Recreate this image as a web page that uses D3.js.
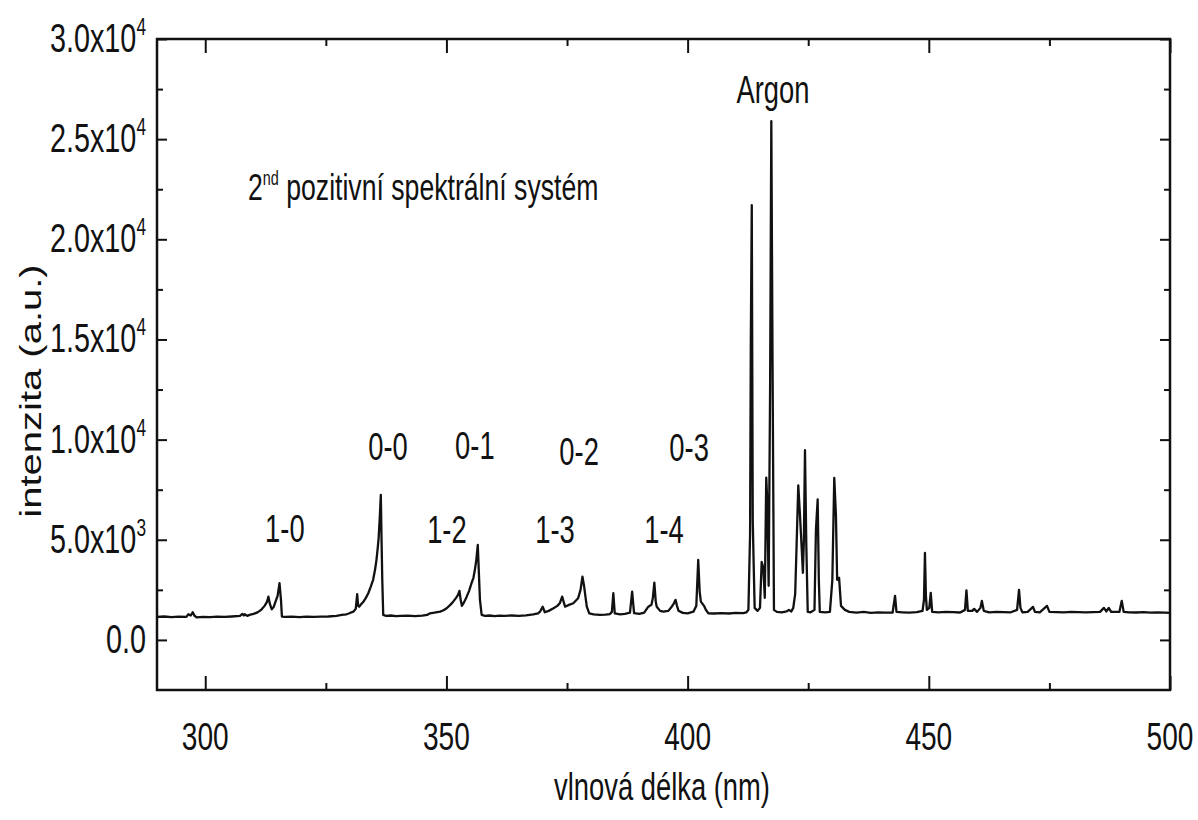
<!DOCTYPE html>
<html>
<head>
<meta charset="utf-8">
<script src="https://cdn.jsdelivr.net/npm/d3@7"></script>
<style>
  html, body { margin: 0; padding: 0; background: #fff; }
  svg { display: block; }
  text { font-family: "Liberation Sans", Arial, sans-serif; fill: #111; }
</style>
</head>
<body>
<svg id="chart" width="1198" height="820"></svg>
<script>
// ---------- data ----------
const wavelength = [
  290.0,291.5,293.0,294.5,296.1,296.5,297.0,297.4,297.8,298.2,299.5,301.0,302.5,304.0,305.5,307.2,307.7,308.0,308.2,308.7,
  309.2,310.0,310.7,311.3,311.7,312.3,312.8,313.1,313.4,313.8,314.2,314.5,315.0,315.4,315.7,315.9,316.5,318.0,319.5,321.0,
  322.5,324.0,325.5,327.2,328.3,329.3,329.9,330.3,330.7,331.2,331.5,331.7,331.9,332.4,332.8,333.3,333.8,334.3,334.8,335.2,
  335.5,335.8,335.95,336.2,336.4,336.55,336.7,336.9,337.5,338.5,339.5,340.5,342.0,343.5,345.0,346.0,346.6,347.5,348.7,349.4,
  350.05,350.8,351.4,352.0,352.4,352.7,352.95,353.2,353.7,354.2,354.7,355.2,355.6,355.9,356.2,356.5,356.75,356.95,357.3,358.0,
  359.0,360.0,361.0,362.0,363.5,365.0,366.5,368.0,369.0,369.4,369.95,370.4,371.2,372.2,373.0,373.5,374.0,374.3,374.6,375.4,
  376.3,377.3,377.8,378.2,378.5,378.8,379.1,379.6,380.5,381.8,383.0,383.9,384.3,384.6,384.9,386.0,387.0,388.05,388.5,388.9,
  390.0,391.0,391.85,392.5,392.8,393.1,393.4,393.6,394.3,395.0,396.0,396.7,397.1,397.5,397.8,398.1,399.0,400.0,401.2,401.8,
  402.2,402.5,402.75,403.1,403.4,403.8,404.3,405.5,407.0,408.5,410.0,411.5,412.2,412.6,412.95,413.1,413.3,413.5,413.7,413.9,
  414.5,415.0,415.35,415.7,416.0,416.3,416.5,416.8,417.1,417.35,417.6,417.9,418.5,419.5,420.5,421.0,421.5,421.9,422.3,422.6,
  422.94,423.3,423.6,423.9,424.1,424.33,424.6,424.9,425.5,426.3,426.6,426.96,427.2,427.4,428.5,429.5,430.0,430.4,430.75,431.0,
  431.4,431.8,432.6,433.5,435.0,436.5,438.0,439.5,441.0,442.5,443.0,443.3,444.5,446.0,447.5,448.7,449.0,449.2,449.4,449.6,
  450.1,450.4,450.7,452.0,453.5,455.0,456.5,457.5,457.8,458.1,459.0,459.4,460.0,460.7,461.0,461.4,462.5,464.0,465.5,467.0,
  468.3,468.7,469.0,469.4,470.5,471.6,472.0,473.0,474.5,475.0,476.5,478.0,479.5,481.0,482.5,484.0,485.5,486.3,486.8,487.3,
  487.8,489.5,490.0,490.4,491.5,493.0,494.5,496.0,497.5,499.0,500.0
];
const intensity = [
  1150,1170,1140,1160,1150,1280,1220,1380,1200,1130,1150,1140,1160,1150,1170,1200,1300,1220,1280,1200,
  1250,1300,1360,1450,1530,1700,1900,2160,1800,1530,1650,1860,2200,2830,2000,1160,1150,1160,1140,1160,
  1150,1160,1170,1200,1250,1280,1330,1380,1410,1550,2280,1700,1660,1800,1910,2100,2330,2650,3000,3500,
  4000,4700,5100,6200,7240,5000,3000,1250,1200,1220,1190,1200,1210,1190,1210,1250,1330,1360,1410,1480,
  1580,1750,1910,2100,2250,2450,2000,1700,1900,2160,2450,2830,3100,3500,4000,4740,3200,2000,1250,1200,
  1220,1190,1210,1200,1220,1200,1230,1280,1330,1410,1660,1380,1450,1580,1700,1830,2160,1900,1660,1750,
  1830,2080,2500,3160,2750,2200,1660,1330,1280,1250,1260,1290,1400,2330,1320,1280,1300,1360,2410,1340,
  1300,1360,1660,1750,2100,2860,1900,1660,1450,1410,1450,1660,1800,2000,1700,1460,1350,1330,1410,1700,
  3990,2400,1910,1800,1700,1500,1330,1320,1340,1320,1350,1340,1380,1500,5300,14900,21700,6000,3700,1600,
  1450,1600,3890,3600,2100,8100,7000,2700,12600,25900,14000,1500,1400,1380,1420,1500,1420,1600,2300,4800,
  7720,6200,4800,3350,5000,9470,4800,1400,1380,1500,5500,7010,3000,1400,1380,1400,3000,8090,6200,3000,
  3100,1700,1500,1400,1360,1400,1350,1380,1360,1370,2200,1400,1380,1360,1390,1450,2000,4340,2200,1500,
  1600,2350,1400,1380,1400,1390,1370,1500,2470,1450,1450,1550,1400,1600,1950,1450,1380,1400,1390,1380,
  1500,2500,1600,1380,1400,1650,1400,1380,1700,1400,1390,1380,1400,1390,1380,1390,1400,1600,1420,1600,
  1400,1400,1950,1400,1380,1370,1390,1360,1380,1360,1350
];

const xMajorTicks = [300, 350, 400, 450, 500];
const xMinorTicks = [325, 375, 425, 475];
const yMajorTicks = [0, 5000, 10000, 15000, 20000, 25000, 30000];
const yMinorTicks = [2500, 7500, 12500, 17500, 22500, 27500];
const yTickMantissa = ["0.0", "5.0x10", "1.0x10", "1.5x10", "2.0x10", "2.5x10", "3.0x10"];
const yTickExponent = ["", "3", "4", "4", "4", "4", "4"];

const bandLabels = ["1-0", "0-0", "0-1", "1-2", "0-2", "1-3", "0-3", "1-4", "Argon"];
const bandLabelX = [316.5, 337.9, 355.9, 350.1, 377.5, 372.5, 400.3, 395.1, 417.7];
const bandLabelY = [4890, 8990, 9040, 4840, 8740, 4840, 8940, 4840, 26810];

const xTitle = "vlnová délka (nm)";
const yTitle = "intenzita (a.u.)";

// ---------- layout ----------
const svg = d3.select("#chart");
const L = 157, R = 1170, T = 39, B = 690;
const SX = 0.72; // horizontal condensation of all text

const x = d3.scaleLinear().domain([290, 500]).range([L, R]);
const y = d3.scaleLinear().domain([-2500, 30000]).range([B, T]);

svg.append("rect").attr("width", 1198).attr("height", 820).attr("fill", "#fff");

// spectrum line
const line = d3.line().x((d, i) => x(wavelength[i])).y(d => y(d));
svg.append("path")
  .datum(intensity)
  .attr("d", line)
  .attr("fill", "none")
  .attr("stroke", "#111")
  .attr("stroke-width", 2.3)
  .attr("stroke-linejoin", "round");

// ticks on all four sides (inward)
function styleAxis(g) {
  g.select(".domain").remove();
  g.selectAll(".tick line").attr("stroke", "#111").attr("stroke-width", 2);
  g.selectAll(".tick text").remove();
}
svg.append("g").attr("transform", `translate(0,${B})`)
  .call(d3.axisBottom(x).tickValues(xMajorTicks).tickSize(-14)).call(styleAxis);
svg.append("g").attr("transform", `translate(0,${B})`)
  .call(d3.axisBottom(x).tickValues(xMinorTicks).tickSize(-7)).call(styleAxis);
svg.append("g").attr("transform", `translate(0,${T})`)
  .call(d3.axisTop(x).tickValues(xMajorTicks).tickSize(-14)).call(styleAxis);
svg.append("g").attr("transform", `translate(0,${T})`)
  .call(d3.axisTop(x).tickValues(xMinorTicks).tickSize(-7)).call(styleAxis);
svg.append("g").attr("transform", `translate(${L},0)`)
  .call(d3.axisLeft(y).tickValues(yMajorTicks).tickSize(-10)).call(styleAxis);
svg.append("g").attr("transform", `translate(${L},0)`)
  .call(d3.axisLeft(y).tickValues(yMinorTicks).tickSize(-6)).call(styleAxis);
svg.append("g").attr("transform", `translate(${R},0)`)
  .call(d3.axisRight(y).tickValues(yMajorTicks).tickSize(-10)).call(styleAxis);
svg.append("g").attr("transform", `translate(${R},0)`)
  .call(d3.axisRight(y).tickValues(yMinorTicks).tickSize(-6)).call(styleAxis);

// frame
svg.append("rect")
  .attr("x", L).attr("y", T).attr("width", R - L).attr("height", B - T)
  .attr("fill", "none").attr("stroke", "#111").attr("stroke-width", 2.5);

// x tick labels
xMajorTicks.forEach(v => {
  svg.append("text")
    .attr("transform", `translate(${x(v)},750) scale(${SX},1)`)
    .attr("text-anchor", "middle")
    .attr("font-size", 39)
    .text(v);
});

// y tick labels
yMajorTicks.forEach((v, i) => {
  const t = svg.append("text")
    .attr("transform", `translate(146,${y(v) + 13}) scale(${SX},1)`)
    .attr("text-anchor", "end")
    .attr("font-size", 40);
  t.append("tspan").text(yTickMantissa[i]);
  if (yTickExponent[i]) {
    t.append("tspan").attr("font-size", 24).attr("dy", -17).text(yTickExponent[i]);
  }
});

// axis titles
svg.append("text")
  .attr("transform", `translate(662,800) scale(${SX},1)`)
  .attr("text-anchor", "middle")
  .attr("font-size", 38)
  .text(xTitle);
svg.append("text")
  .attr("transform", `translate(41,391) scale(0.74,1) rotate(-90)`)
  .attr("text-anchor", "middle")
  .attr("font-size", 40)
  .text(yTitle);

// band annotations
bandLabels.forEach((s, i) => {
  svg.append("text")
    .attr("transform", `translate(${x(bandLabelX[i])},${y(bandLabelY[i])}) scale(${SX},1)`)
    .attr("text-anchor", "middle")
    .attr("font-size", 38)
    .text(s);
});

// system label
const sys = svg.append("text")
  .attr("transform", `translate(248,200) scale(${SX},1)`)
  .attr("font-size", 37);
sys.append("tspan").text("2");
sys.append("tspan").attr("font-size", 20).attr("dy", -15).text("nd");
sys.append("tspan").attr("dy", 15).text(" pozitivní spektrální systém");
</script>
</body>
</html>
